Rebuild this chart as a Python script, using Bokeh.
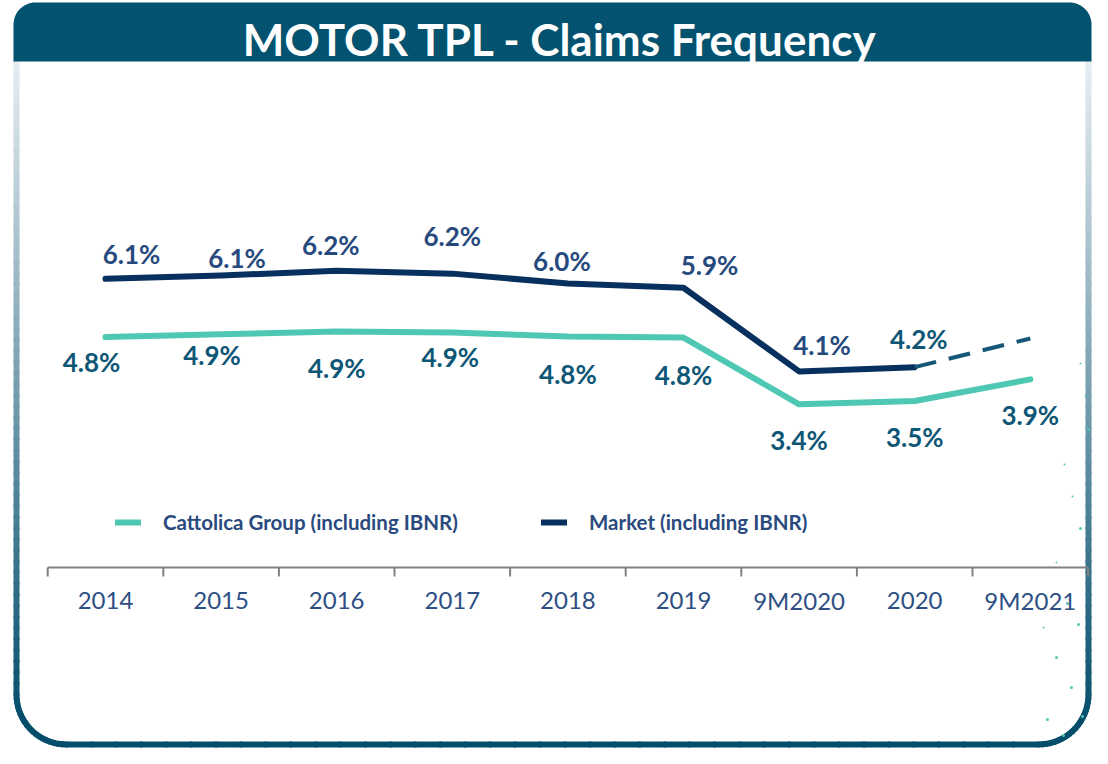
import numpy as np
from bokeh.plotting import figure
from bokeh.models import Range1d, Legend, LegendItem
from bokeh.core.properties import value
from bokeh.embed import file_html
from bokeh.resources import INLINE

# ---------------- data ----------------
categories = ["2014", "2015", "2016", "2017", "2018", "2019", "9M2020", "2020", "9M2021"]
cattolica = [4.82, 4.88, 4.94, 4.92, 4.83, 4.81, 3.39, 3.46, 3.92]
market = [6.06, 6.13, 6.23, 6.17, 5.96, 5.87, 4.09, 4.18]
market_9m2021_projection = 4.79
title_text = "MOTOR TPL - Claims Frequency"
cattolica_name = "Cattolica Group (including IBNR)"
market_name = "Market (including IBNR)"

# ---------------- layout helpers (canvas pixels -> data) ----------------
W, H = 1092, 748
X0, DX = 105.0, 115.6      # centre of first category, category pitch (px)
Y0V, Y0P, DY = 6.06, 278.3, 47.0


def X(px):
    return (px - X0) / DX


def Y(py):
    return Y0V - (py - Y0P) / DY


p = figure(width=W, height=H, output_backend="svg", toolbar_location=None,
           x_range=Range1d(X(0), X(W)), y_range=Range1d(Y(H), Y(0)),
           x_axis_type=None, y_axis_type=None, min_border=0,
           outline_line_color=None, background_fill_color="white",
           border_fill_color="white")
p.grid.grid_line_color = None

# ---------------- frame: gradient rounded border ----------------
L, R, B, TOPY, RB = 16, 1088, 744, 40, 50
pts = []
for yy in np.linspace(TOPY, B - RB, 60):
    pts.append((L, yy))
for th in np.linspace(np.pi, np.pi / 2, 20)[1:]:
    pts.append((L + RB + RB * np.cos(th), B - RB + RB * np.sin(th)))
for xx in np.linspace(L + RB, R - RB, 40)[1:]:
    pts.append((xx, B))
for th in np.linspace(np.pi / 2, 0, 20)[1:]:
    pts.append((R - RB + RB * np.cos(th), B - RB + RB * np.sin(th)))
for yy in np.linspace(B - RB, TOPY, 60)[1:]:
    pts.append((R, yy))

c_top = np.array([232, 238, 242])
c_bot = np.array([4, 78, 108])


def grad(py):
    t = min(max((py - 60) / (720 - 60), 0.0), 1.0)
    c = c_top + (c_bot - c_top) * t
    return "#%02x%02x%02x" % tuple(int(round(v)) for v in c)


sx0, sy0, sx1, sy1, scol = [], [], [], [], []
for (ax, ay), (bx, by) in zip(pts[:-1], pts[1:]):
    sx0.append(X(ax)); sy0.append(Y(ay)); sx1.append(X(bx)); sy1.append(Y(by))
    scol.append(grad((ay + by) / 2))
p.segment(sx0, sy0, sx1, sy1, line_color=scol, line_width=6, line_cap="round")

# decorative sprinkle of small dots near the lower right corner
dots_px = [(1080, 363, 2), (1085, 396, 2), (1088, 429, 3), (1064, 464, 2), (1072, 496, 2),
           (1080, 528, 3), (1056, 562, 2), (1067, 603, 3), (1043, 627, 2), (1078, 624, 3),
           (1056, 657, 3), (1071, 687, 3), (1082, 716, 3), (1047, 719, 3), (1063, 735, 3)]
p.scatter([X(a) for a, b, s in dots_px], [Y(b) for a, b, s in dots_px],
          size=[s for a, b, s in dots_px], fill_color="#53C6B1", line_color=None)

# ---------------- header band ----------------
HL, HR, HT, HB, HRAD = 13, 1091, 2, 61, 22
hx, hy = [HL], [HB]
for th in np.linspace(np.pi, 1.5 * np.pi, 16):
    hx.append(HL + HRAD + HRAD * np.cos(th)); hy.append(HT + HRAD + HRAD * np.sin(th))
for th in np.linspace(1.5 * np.pi, 2 * np.pi, 16):
    hx.append(HR - HRAD + HRAD * np.cos(th)); hy.append(HT + HRAD + HRAD * np.sin(th))
hx.append(HR); hy.append(HB)
p.patch([X(v) for v in hx], [Y(v) for v in hy], fill_color="#03526F", line_color=None)
p.text(x=[X(560)], y=[Y(38)], text=[title_text], text_align="center",
       text_baseline="middle", text_color="white", text_font=value("Lato"),
       text_font_style="bold", text_font_size="44px")

# ---------------- category axis ----------------
idx = list(range(len(categories)))
axis_y = Y(567)
bounds = [i - 0.5 for i in range(len(categories) + 1)]
p.segment(x0=[bounds[0]], y0=[axis_y], x1=[bounds[-1]], y1=[axis_y],
          line_color="#808080", line_width=2)
p.segment(x0=bounds, y0=[axis_y] * len(bounds), x1=bounds,
          y1=[Y(576)] * len(bounds), line_color="#808080", line_width=2)
p.text(x=idx, y=[Y(600)] * len(idx), text=categories, text_align="center",
       text_baseline="middle", text_color="#2D4F84", text_font=value("Lato"),
       text_font_size="24px")

# ---------------- series ----------------
r_cat = p.line(idx, cattolica, line_color="#4FC8B3", line_width=6,
               line_cap="round", line_join="round")
r_mkt = p.line(idx[:len(market)], market, line_color="#08305F", line_width=6,
               line_cap="round", line_join="round")
p.line([idx[len(market) - 1], idx[len(market)]], [market[-1], market_9m2021_projection],
       line_color="#165676", line_width=4, line_dash="22 13")

# ---------------- value labels ----------------
mkt_dx = [26, 16, -6, 0, -6, 26, 23, 4]
mkt_dy = [-25, -18, -26, -38, -23, -23, -26, -28]
mkt_col = ["#274A7E"] * 7 + ["#0E5676"]
p.text(x=idx[:len(market)], y=market, text=[f"{v:.1f}%" for v in market],
       x_offset=mkt_dx, y_offset=mkt_dy, text_align="center", text_baseline="middle",
       text_color=mkt_col, text_font=value("Lato"), text_font_style="bold",
       text_font_size="26px")
cat_dx = [-14, -9, 0, -2, 0, 0, 0, 0, 0]
cat_dy = [25, 21, 37, 25, 37, 37, 36, 36, 36]
p.text(x=idx, y=cattolica, text=[f"{v:.1f}%" for v in cattolica],
       x_offset=cat_dx, y_offset=cat_dy, text_align="center", text_baseline="middle",
       text_color="#0E5676", text_font=value("Lato"), text_font_style="bold",
       text_font_size="26px")


# ---------------- legends ----------------
def make_legend(label, rend, loc):
    return Legend(items=[LegendItem(label=label, renderers=[rend])], location=loc,
                  orientation="horizontal", glyph_width=26, glyph_height=20,
                  label_height=20, label_standoff=22, padding=0, margin=0, spacing=0,
                  border_line_alpha=0, background_fill_alpha=0,
                  label_text_font="Lato", label_text_font_style="bold",
                  label_text_font_size="20.5px", label_text_color="#2A4A7E")


p.add_layout(make_legend(cattolica_name, r_cat, (115, 214)))
p.add_layout(make_legend(market_name, r_mkt, (541, 214)))

open("out.html", "w").write(file_html(p, INLINE))
